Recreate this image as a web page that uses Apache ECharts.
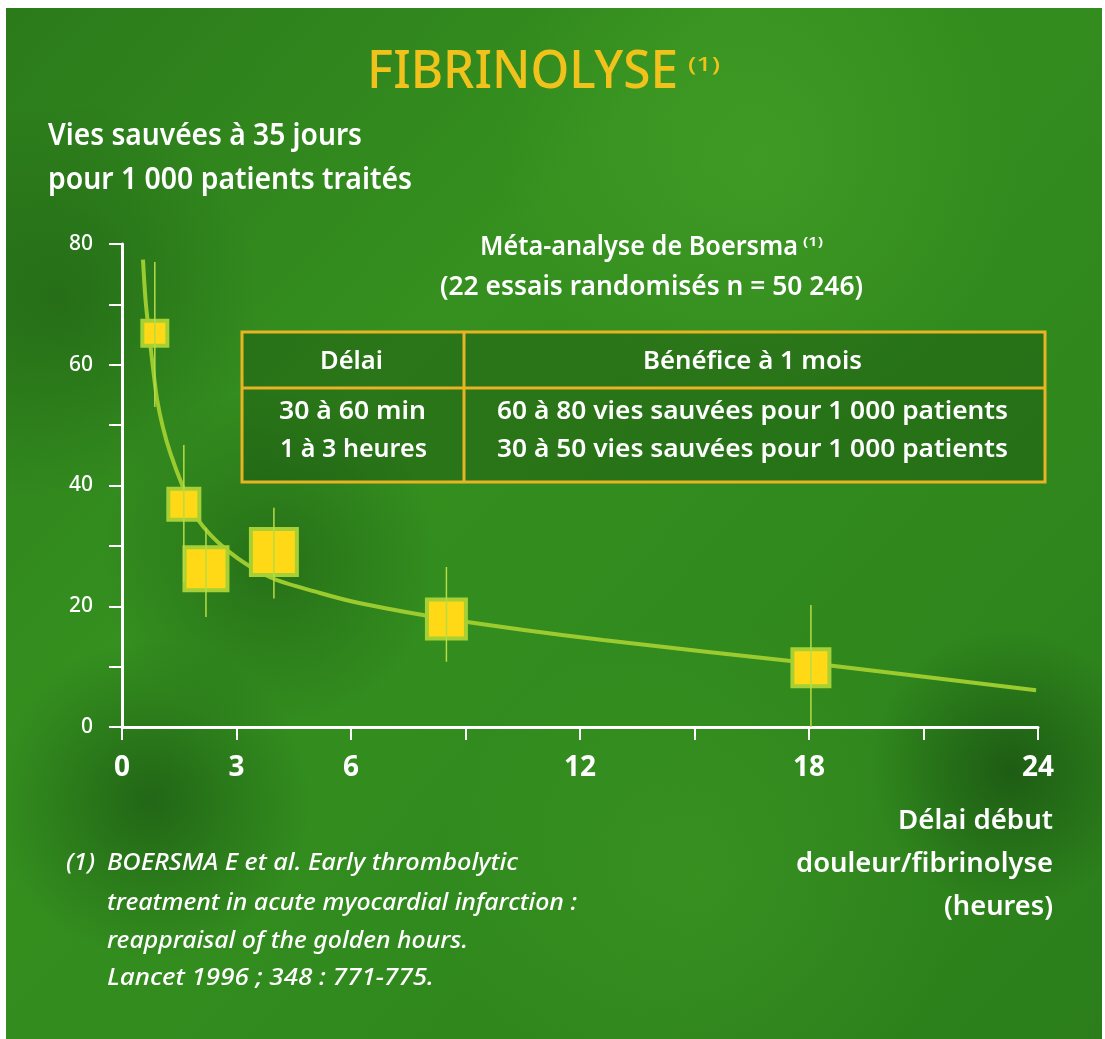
<!DOCTYPE html>
<html>
<head>
<meta charset="utf-8">
<script src="https://cdn.jsdelivr.net/npm/echarts@6/dist/echarts.min.js"></script>
<style>
html,body{margin:0;padding:0;background:#2b7e1b;overflow:hidden;}
#chart{width:1105px;height:1039px;}
</style>
</head>
<body>
<div id="chart"></div>
<script>
// ---- data ----
var delays   = [0.86, 1.62, 2.2, 3.98, 8.5, 18.05];     // hours from pain onset
var saved    = [65.2, 36.9, 26.2, 29.0, 17.9, 9.8];     // lives saved per 1000 treated
var ciLow    = [53.0, 24.0, 18.2, 21.3, 10.8, 0.0];
var ciHigh   = [77.0, 46.7, 33.0, 36.3, 26.5, 20.2];
var weights  = [25, 31, 43, 46, 39, 37];                // relative study weight (square side)
var curveX   = [0.55, 0.62, 0.73, 0.81, 0.92, 1.07, 1.26, 1.6, 1.96, 2.75, 3.88, 5.19, 6.24, 8.52, 12.6, 18.0, 23.95];
var curveY   = [77.4, 70.5, 64.0, 59.6, 54.2, 49.7, 45.5, 39.7, 34.6, 29.3, 24.8, 22.2, 20.5, 17.9, 14.4, 10.6, 6.1];
var xTickLabels = ['0', '3', '6', '12', '18', '24'];
var yTickLabels = ['0', '20', '40', '60', '80'];
var titleText = 'FIBRINOLYSE';
var yCaption = ['Vies sauvées à 35 jours', 'pour 1 000 patients traités'];
var metaCaption = ['Méta-analyse de Boersma', '(22 essais randomisés n = 50 246)'];
var tableHeader = ['Délai', 'Bénéfice à 1 mois'];
var tableRowsLeft  = ['30 à 60 min', '1 à 3 heures'];
var tableRowsRight = ['60 à 80 vies sauvées pour 1 000 patients', '30 à 50 vies sauvées pour 1 000 patients'];
var xCaption = ['Délai début', 'douleur/fibrinolyse', '(heures)'];
var footnote = ['BOERSMA E et al. Early thrombolytic', 'treatment in acute myocardial infarction :', 'reappraisal of the golden hours.', 'Lancet 1996 ; 348 : 771-775.'];

var FONT = "'Noto Sans', 'Open Sans', sans-serif";
var chart = echarts.init(document.getElementById('chart'), null, {renderer: 'canvas'});

var pointData = delays.map(function (d, i) { return [d, saved[i], weights[i]]; });
var errData = delays.map(function (d, i) { return [d, ciLow[i], ciHigh[i]]; });
var curveData = curveX.map(function (x, i) { return [x, curveY[i]]; });

var mctx = document.createElement('canvas').getContext('2d');
function fontStr(size, o) { return (o.italic ? 'italic ' : '') + (o.weight || '600') + ' ' + size + 'px ' + FONT; }
// text placed by its anchor x, cap-centre y, fitted to a measured width
function txt(text, x, y, size, targetW, o) {
  o = o || {};
  var f = fontStr(size, o);
  mctx.font = f;
  var w = mctx.measureText(text).width;
  var sx = targetW ? targetW / w : 1;
  return {
    type: 'text', x: x, y: y, z: 50, scaleX: sx, scaleY: 1, silent: true,
    style: {
      text: text, fill: o.fill || '#ffffff', font: f,
      textAlign: o.align || 'left', textVerticalAlign: 'middle',
      align: o.align || 'left', verticalAlign: 'middle'
    }
  };
}

var TL = 242, TR = 1045, TT = 332, TB = 482, TH = 388, TC = 464;
var gold = '#e8b424';
var yellow = '#f1c21c';

function blob(cx, cy, r, rgba0, rgba1) {
  return {type: 'circle', shape: {cx: cx, cy: cy, r: r}, z: -9, silent: true,
    style: {fill: new echarts.graphic.RadialGradient(0.5, 0.5, 0.5, [{offset: 0, color: rgba0}, {offset: 1, color: rgba1}])}};
}

var graphics = [
  {type: 'rect', shape: {x: 0, y: 0, width: 1105, height: 1039}, z: -10, silent: true,
   style: {fill: new echarts.graphic.LinearGradient(0, 0, 1, 1, [
     {offset: 0, color: '#2b7a1b'}, {offset: 0.35, color: '#35901f'},
     {offset: 0.7, color: '#30881d'}, {offset: 1, color: '#2b7e1b'}])}},
  blob(150, 800, 160, 'rgba(12,55,12,0.45)', 'rgba(12,55,12,0)'),
  blob(270, 560, 170, 'rgba(12,55,12,0.35)', 'rgba(12,55,12,0)'),
  blob(1010, 770, 140, 'rgba(10,45,10,0.45)', 'rgba(10,45,10,0)'),
  blob(60, 300, 200, 'rgba(15,60,12,0.3)', 'rgba(15,60,12,0)'),
  blob(760, 160, 260, 'rgba(90,180,50,0.3)', 'rgba(90,180,50,0)'),
  blob(700, 880, 260, 'rgba(80,170,45,0.25)', 'rgba(80,170,45,0)'),
  {type: 'rect', shape: {x: 0, y: 0, width: 1105, height: 8}, z: -8, silent: true, style: {fill: '#ffffff'}},
  {type: 'rect', shape: {x: 0, y: 0, width: 6, height: 1039}, z: -8, silent: true, style: {fill: '#ffffff'}},
  {type: 'rect', shape: {x: 1102, y: 0, width: 3, height: 1039}, z: -8, silent: true, style: {fill: '#ffffff'}},

  // title
  txt(titleText, 367, 73, 52, 311, {fill: yellow, weight: '500'}),
  txt('(1)', 688, 66, 19, 32, {fill: yellow, weight: '500'}),
  // y-axis caption
  txt(yCaption[0], 48, 136, 31, 314),
  txt(yCaption[1], 48, 180, 31, 364),
  // meta-analysis caption
  txt(metaCaption[0], 480, 247, 27, 318),
  txt('(1)', 803, 243, 12, 20),
  txt(metaCaption[1], 440, 287, 27, 423),

  // table
  {type: 'rect', shape: {x: TL, y: TT, width: TR - TL, height: TB - TT}, z: 40, silent: true,
   style: {fill: 'rgba(15,60,10,0.3)', stroke: gold, lineWidth: 3}},
  {type: 'line', shape: {x1: TL, y1: TH, x2: TR, y2: TH}, z: 41, silent: true, style: {stroke: gold, lineWidth: 3}},
  {type: 'line', shape: {x1: TC, y1: TT, x2: TC, y2: TB}, z: 41, silent: true, style: {stroke: gold, lineWidth: 3}},
  txt(tableHeader[0], 320, 362, 26, 63),
  txt(tableHeader[1], 643, 362, 26, 219),
  txt(tableRowsLeft[0], 279, 412, 26, 147),
  txt(tableRowsLeft[1], 280, 450, 26, 147),
  txt(tableRowsRight[0], 497, 412, 26, 511),
  txt(tableRowsRight[1], 497, 450, 26, 511),

  // x-axis caption (right aligned)
  txt(xCaption[0], 1053, 821, 27, 155, {align: 'right'}),
  txt(xCaption[1], 1053, 864, 27, 257, {align: 'right'}),
  txt(xCaption[2], 1053, 907, 27, 109, {align: 'right'}),

  // footnote
  txt('(1)', 66, 863, 24, 29, {italic: true, weight: '500'}),
  txt(footnote[0], 107, 863, 24, 411, {italic: true, weight: '500'}),
  txt(footnote[1], 107, 903, 24, 470, {italic: true, weight: '500'}),
  txt(footnote[2], 107, 941, 24, 361, {italic: true, weight: '500'}),
  txt(footnote[3], 107, 978, 24, 327, {italic: true, weight: '500'})
];

var option = {
  animation: false,
  backgroundColor: 'transparent',
  grid: {left: 122, right: 67, top: 244, bottom: 312, containLabel: false},
  xAxis: {
    type: 'value', min: 0, max: 24, interval: 3,
    axisLine: {show: true, onZero: false, lineStyle: {color: '#ffffff', width: 3}},
    axisTick: {show: true, inside: false, length: 13, lineStyle: {color: '#ffffff', width: 2}},
    splitLine: {show: false},
    axisLabel: {
      margin: 27, color: '#ffffff', fontSize: 28, fontFamily: FONT, fontWeight: 'bold',
      formatter: function (v) { var s = String(v); return xTickLabels.indexOf(s) >= 0 ? s : ''; }
    }
  },
  yAxis: {
    type: 'value', min: 0, max: 80, interval: 10,
    axisLine: {show: true, lineStyle: {color: '#ffffff', width: 3}},
    axisTick: {show: true, inside: false, length: 13, lineStyle: {color: '#ffffff', width: 2}},
    splitLine: {show: false},
    axisLabel: {
      margin: 29, color: '#ffffff', fontSize: 21, fontFamily: FONT, fontWeight: 500,
      formatter: function (v) { var s = String(v); return yTickLabels.indexOf(s) >= 0 ? s : ''; }
    }
  },
  series: [
    {
      type: 'line', data: curveData, smooth: 0.3, symbol: 'none', z: 2,
      lineStyle: {color: '#9ccb30', width: 4}
    },
    {
      type: 'scatter', data: pointData, symbol: 'rect', z: 3,
      symbolSize: function (d) { return d[2]; },
      itemStyle: {color: '#ffd816', borderColor: '#a6d034', borderWidth: 4, opacity: 1}
    },
    {
      type: 'custom', z: 4, data: errData,
      renderItem: function (params, api) {
        var top = api.coord([api.value(0), api.value(2)]);
        var bot = api.coord([api.value(0), api.value(1)]);
        return {type: 'line', shape: {x1: top[0], y1: top[1], x2: bot[0], y2: bot[1]},
                style: {stroke: '#b8dc44', lineWidth: 1.5}};
      }
    }
  ],
  graphic: graphics
};
chart.setOption(option);
</script>
</body>
</html>
